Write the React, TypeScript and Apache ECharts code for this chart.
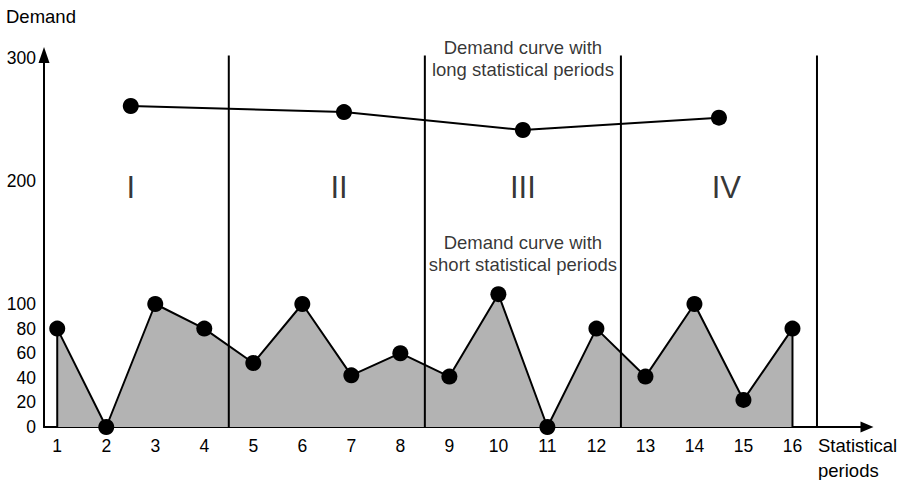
import React, { useEffect, useRef } from 'react';
import * as echarts from 'echarts';

// ---- data ----
const periods = [1, 2, 3, 4, 5, 6, 7, 8, 9, 10, 11, 12, 13, 14, 15, 16];
const shortDemand = [80, 0, 100, 80, 52, 100, 42, 60, 41, 108, 0, 80, 41, 100, 22, 80];
const longPositions = [2.5, 6.85, 10.5, 14.5];
const longDemand = [261, 256, 241.5, 251.5];
const boundaries = [4.5, 8.5, 12.5, 16.5];
const boundaryTop = 302;
const yTicks = [0, 20, 40, 60, 80, 100, 200, 300];
const periodNames = ['I', 'II', 'III', 'IV'];
const periodNameX = [2.5, 6.75, 10.5, 14.65];
const periodNameY = 195;
const annotations = [
  { text: 'Demand curve with\nlong statistical periods', x: 10.5, y: 299.5 },
  { text: 'Demand curve with\nshort statistical periods', x: 10.5, y: 141 },
];

const FONT = '"Liberation Sans", Arial, sans-serif';

export default function App() {
  const ref = useRef<HTMLDivElement>(null);
  useEffect(() => {
    const chart = echarts.init(ref.current!, null, { renderer: 'svg' });
    const shortData = periods.map((p, i) => [p, shortDemand[i]]);
    const longData = longPositions.map((p, i) => [p, longDemand[i]]);
    const first = shortData[0];
    const last = shortData[shortData.length - 1];

    const series: any[] = [
      {
        type: 'line',
        data: shortData,
        symbol: 'circle',
        symbolSize: 16,
        itemStyle: { color: '#000' },
        lineStyle: { color: '#000', width: 2 },
        areaStyle: { color: '#b3b3b3', opacity: 1 },
        z: 2,
        silent: true,
      },
      {
        type: 'line',
        data: [[first[0], 0], first],
        symbol: 'none',
        lineStyle: { color: '#000', width: 2 },
        z: 3,
        silent: true,
      },
      {
        type: 'line',
        data: [[last[0], 0], last],
        symbol: 'none',
        lineStyle: { color: '#000', width: 2 },
        z: 3,
        silent: true,
      },
      ...boundaries.map((b) => ({
        type: 'line',
        data: [[b, 0], [b, boundaryTop]],
        symbol: 'none',
        clip: false,
        lineStyle: { color: '#000', width: 2 },
        z: 3,
        silent: true,
      })),
      {
        type: 'line',
        data: longData,
        symbol: 'circle',
        symbolSize: 16,
        itemStyle: { color: '#000' },
        lineStyle: { color: '#000', width: 2 },
        z: 5,
        silent: true,
      },
      {
        type: 'scatter',
        symbolSize: 1,
        itemStyle: { color: 'rgba(0,0,0,0)' },
        silent: true,
        z: 6,
        data: periodNames.map((n, i) => ({ value: [periodNameX[i], periodNameY], name: n })),
        label: {
          show: true,
          position: 'inside',
          formatter: (p: any) => p.name,
          fontSize: 31,
          color: '#000',
          fontFamily: FONT,
        },
      },
      {
        type: 'scatter',
        symbolSize: 1,
        itemStyle: { color: 'rgba(0,0,0,0)' },
        silent: true,
        z: 6,
        data: annotations.map((a) => ({ value: [a.x, a.y], name: a.text })),
        label: {
          show: true,
          position: 'inside',
          formatter: (p: any) => p.name,
          fontSize: 18.5,
          lineHeight: 22,
          align: 'center',
          color: '#000',
          fontFamily: FONT,
        },
      },
    ];

    chart.setOption({
      animation: false,
      backgroundColor: '#fff',
      grid: { left: 44, right: 36, top: 58, bottom: 53 },
      xAxis: {
        type: 'value',
        min: 0.73,
        max: 17.5,
        axisLine: {
          show: true,
          onZero: false,
          lineStyle: { color: '#000', width: 2 },
          symbol: ['none', 'triangle'],
          symbolSize: [11, 13],
          symbolOffset: [0, 1],
        },
        axisTick: { show: false },
        splitLine: { show: false },
        axisLabel: {
          customValues: periods,
          formatter: (v: number) => String(v),
          fontSize: 17.5,
          color: '#000',
          margin: 10,
          fontFamily: FONT,
        },
      },
      yAxis: {
        type: 'value',
        min: 0,
        max: 300,
        axisLine: {
          show: true,
          onZero: false,
          lineStyle: { color: '#000', width: 2 },
          symbol: ['none', 'triangle'],
          symbolSize: [11, 16],
          symbolOffset: [0, 3],
        },
        axisTick: { show: false },
        splitLine: { show: false },
        axisLabel: {
          customValues: yTicks,
          formatter: (v: number) => String(v),
          fontSize: 17.5,
          color: '#000',
          margin: 8,
          fontFamily: FONT,
        },
      },
      graphic: [
        {
          type: 'text',
          left: 6,
          top: 7,
          style: { text: 'Demand', fontSize: 18.5, fill: '#000', fontFamily: FONT },
        },
        {
          type: 'text',
          left: 818,
          top: 433,
          style: {
            text: 'Statistical\nperiods',
            fontSize: 18.5,
            lineHeight: 25,
            fill: '#000',
            fontFamily: FONT,
          },
        },
      ],
      series,
    });
    return () => chart.dispose();
  }, []);
  return (
    <div
      ref={ref}
      style={{ position: 'absolute', left: 0, top: 0, width: 902, height: 480 }}
    />
  );
}
